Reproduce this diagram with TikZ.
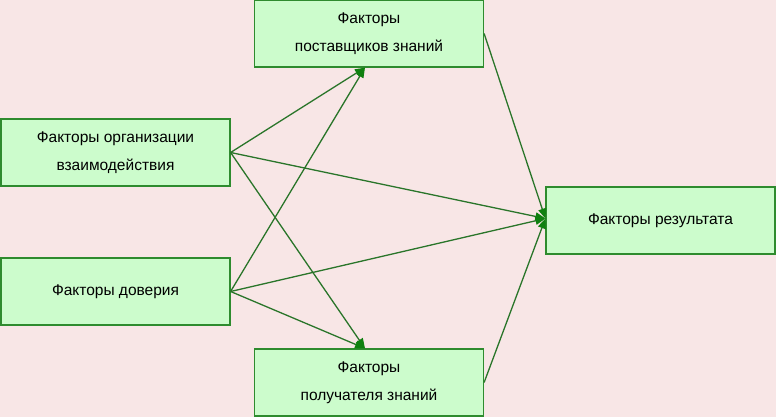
\documentclass[tikz,border=0pt]{standalone}
\usepackage{fontspec}
\setmainfont{Liberation Sans}
\usetikzlibrary{arrows.meta}
\definecolor{bgpink}{HTML}{F8E6E6}
\definecolor{boxfill}{HTML}{CCFCCC}
\definecolor{boxline}{HTML}{2E8B2E}
\definecolor{arrline}{HTML}{2A752A}
\definecolor{arrtip}{HTML}{108010}
\tikzset{
  factor/.style={draw=boxline, fill=boxfill, line width=1.2pt, minimum width=229pt,
    minimum height=67pt, align=center, inner sep=0pt,
    font=\fontsize{15.5}{28}\selectfont},
  link/.style={draw=arrline, line width=1.3pt,
    -{Triangle[length=10pt,width=8pt,color=arrtip]}}
}
\begin{document}
\begin{tikzpicture}[x=1pt,y=-1pt]
        % Background
        \fill[bgpink] (0,0) rectangle (776,417);
        \useasboundingbox (0,0) rectangle (776,417);
        % Boxes
        \node[factor] (org) at (115.5,152.5) {Факторы организации\\взаимодействия};
        \node[factor] (trust) at (115.5,291.5) {Факторы доверия};
        \node[factor] (sup) at (369,33.5) {Факторы\\поставщиков знаний};
        \node[factor] (rec) at (369,382.5) {Факторы\\получателя знаний};
        \node[factor] (res) at (660.5,220.5) {Факторы результата};
        % Arrows
        \draw[link] (org.east) -- ([xshift=-4pt]sup.south);
        \draw[link] (org.east) -- ([xshift=-4pt]rec.north);
        \draw[link] (org.east) -- ([yshift=2pt]res.west);
        \draw[link] (trust.east) -- ([xshift=-4pt]sup.south);
        \draw[link] (trust.east) -- ([xshift=-4pt]rec.north);
        \draw[link] (trust.east) -- ([yshift=2pt]res.west);
        \draw[link] (sup.east) -- ([yshift=2pt]res.west);
        \draw[link] (rec.east) -- ([yshift=2pt]res.west);
    \end{tikzpicture}
\end{document}
